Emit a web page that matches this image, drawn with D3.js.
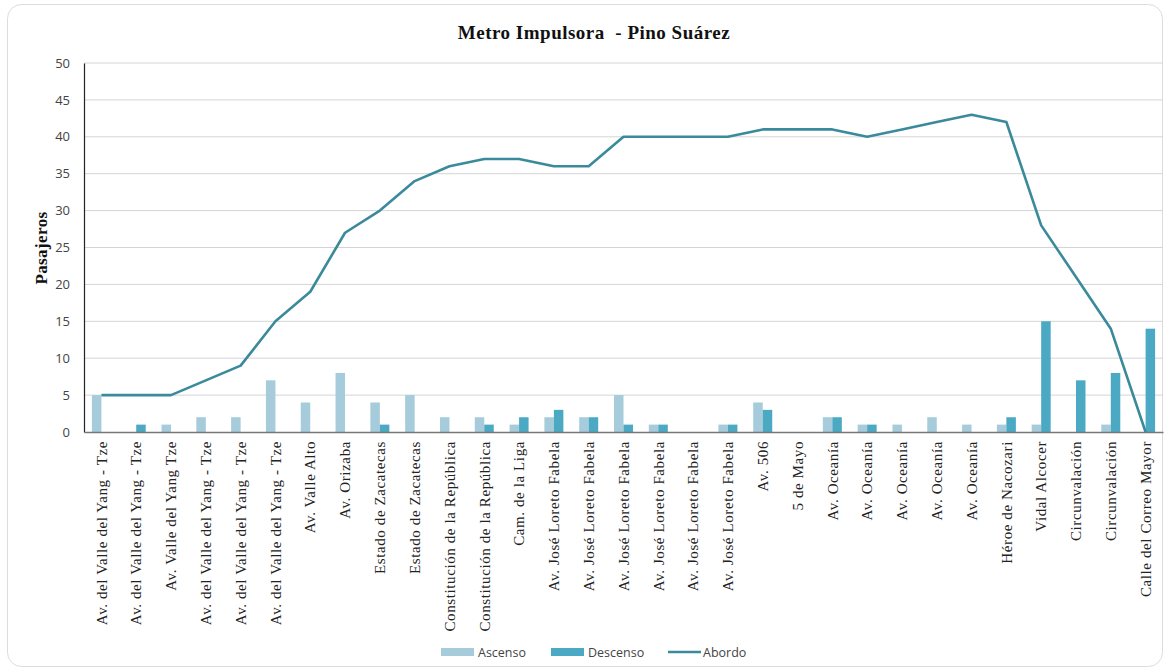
<!DOCTYPE html>
<html><head><meta charset="utf-8">
<script src="https://cdn.jsdelivr.net/npm/d3@7"></script>
<style>
html,body{margin:0;padding:0;background:#fff;}
</style></head>
<body>
<svg id="c" width="1171" height="672"></svg>
<script>
const categories = [
"Av. del Valle del Yang - Tze","Av. del Valle del Yang - Tze","Av. Valle del Yang Tze","Av. del Valle del Yang - Tze","Av. del Valle del Yang - Tze","Av. del Valle del Yang - Tze",
"Av. Valle Alto","Av. Orizaba","Estado de Zacatecas","Estado de Zacatecas","Constitución de la República","Constitución de la República",
"Cam. de la Liga","Av. José Loreto Fabela","Av. José Loreto Fabela","Av. José Loreto Fabela","Av. José Loreto Fabela","Av. José Loreto Fabela","Av. José Loreto Fabela",
"Av. 506","5 de Mayo","Av. Oceanía","Av. Oceanía","Av. Oceanía","Av. Oceanía","Av. Oceanía","Héroe de Nacozari","Vidal Alcocer","Circunvalación","Circunvalación","Calle del Correo Mayor"];
const ascenso  = [5,0,1,2,2,7,4,8,4,5,2,2,1,2,2,5,1,0,1,4,0,2,1,1,2,1,1,1,0,1,0];
const descenso = [0,1,0,0,0,0,0,0,1,0,0,1,2,3,2,1,1,0,1,3,0,2,1,0,0,0,2,15,7,8,14];
const abordo   = [5,5,5,7,9,15,19,27,30,34,36,37,37,36,36,40,40,40,40,41,41,41,40,41,42,43,42,28,21,14,0];
const yTicks = [0,5,10,15,20,25,30,35,40,45,50];
const title = "Metro Impulsora  - Pino Suárez";
const yLabel = "Pasajeros";
const seriesNames = ["Ascenso","Descenso","Abordo"];

(function(){
const cA = "#a6cbdb", cD = "#4ba9c3", cL = "#3a8a9c";
const svg = d3.select("#c");
const pL = 84, pR = 1163, pT = 63, pB = 432;
const serif = "'Liberation Serif','Times New Roman',serif";
const sans = "'Open Sans','Noto Sans',sans-serif";

svg.append("rect").attr("x",7.5).attr("y",4.5).attr("width",1155).attr("height",662)
  .attr("rx",14).attr("fill","#fff").attr("stroke","#dcdcdc");

const idx = categories.map((d,i)=>i);
const x = d3.scaleBand().domain(idx).range([pL,pR]).padding(0);
const y = d3.scaleLinear().domain([0,50]).range([pB,pT]);

svg.append("g").selectAll("line").data(yTicks.filter(t=>t>0)).join("line")
  .attr("x1",pL).attr("x2",pR).attr("y1",d=>y(d)).attr("y2",d=>y(d))
  .attr("stroke","#d4d4d4").attr("stroke-width",1);

const ya = svg.append("g").attr("transform",`translate(${pL},0)`)
  .call(d3.axisLeft(y).tickValues(yTicks).tickSize(0).tickPadding(14));
ya.select(".domain").attr("stroke","#222").attr("stroke-width",1.2);
ya.selectAll("text").attr("font-family",sans).attr("font-size",13).attr("fill","#444");

const bw = 9.5;
svg.append("g").selectAll("rect").data(idx).join("rect")
  .attr("x",i=>x(i)+x.bandwidth()/2-bw).attr("width",bw)
  .attr("y",i=>y(ascenso[i])).attr("height",i=>y(0)-y(ascenso[i])).attr("fill",cA);
svg.append("g").selectAll("rect").data(idx).join("rect")
  .attr("x",i=>x(i)+x.bandwidth()/2).attr("width",bw)
  .attr("y",i=>y(descenso[i])).attr("height",i=>y(0)-y(descenso[i])).attr("fill",cD);

const xa = svg.append("g").attr("transform",`translate(0,${pB})`)
  .call(d3.axisBottom(x).tickSize(0).tickFormat(i=>categories[i]));
xa.select(".domain").attr("stroke","#777").attr("stroke-width",1.5);
xa.selectAll("text").attr("font-family",serif).attr("font-size",15).attr("fill","#222")
  .attr("letter-spacing","0.6px")
  .attr("text-anchor","end").attr("transform","rotate(-90)")
  .attr("x",-9).attr("y",0).attr("dy","0.35em");

const line = d3.line().x((d,i)=>x(i)+x.bandwidth()/2).y(d=>y(d));
svg.append("path").datum(abordo).attr("d",line).attr("fill","none")
  .attr("stroke",cL).attr("stroke-width",2.6).attr("stroke-linejoin","round");

svg.append("text").attr("x",594).attr("y",39).attr("text-anchor","middle")
  .style("white-space","pre").attr("letter-spacing","0.5px")
  .attr("font-family",serif).attr("font-weight","bold").attr("font-size",19).attr("fill","#111").text(title);
svg.append("text").attr("transform","translate(47,248) rotate(-90)").attr("text-anchor","middle")
  .attr("letter-spacing","0.4px")
  .attr("font-family",serif).attr("font-weight","bold").attr("font-size",17).attr("fill","#111").text(yLabel);

const lg = svg.append("g").attr("font-family",sans).attr("font-size",12.5).attr("fill","#444");
const lx = [441,551,668];
lg.append("rect").attr("x",lx[0]).attr("y",648).attr("width",33).attr("height",8).attr("fill",cA);
lg.append("text").attr("x",lx[0]+37).attr("y",657).text(seriesNames[0]);
lg.append("rect").attr("x",lx[1]).attr("y",648).attr("width",33).attr("height",8).attr("fill",cD);
lg.append("text").attr("x",lx[1]+37).attr("y",657).text(seriesNames[1]);
lg.append("line").attr("x1",lx[2]).attr("x2",lx[2]+33).attr("y1",652).attr("y2",652).attr("stroke",cL).attr("stroke-width",2.6);
lg.append("text").attr("x",lx[2]+35).attr("y",657).text(seriesNames[2]);
})();
</script>
</body></html>
